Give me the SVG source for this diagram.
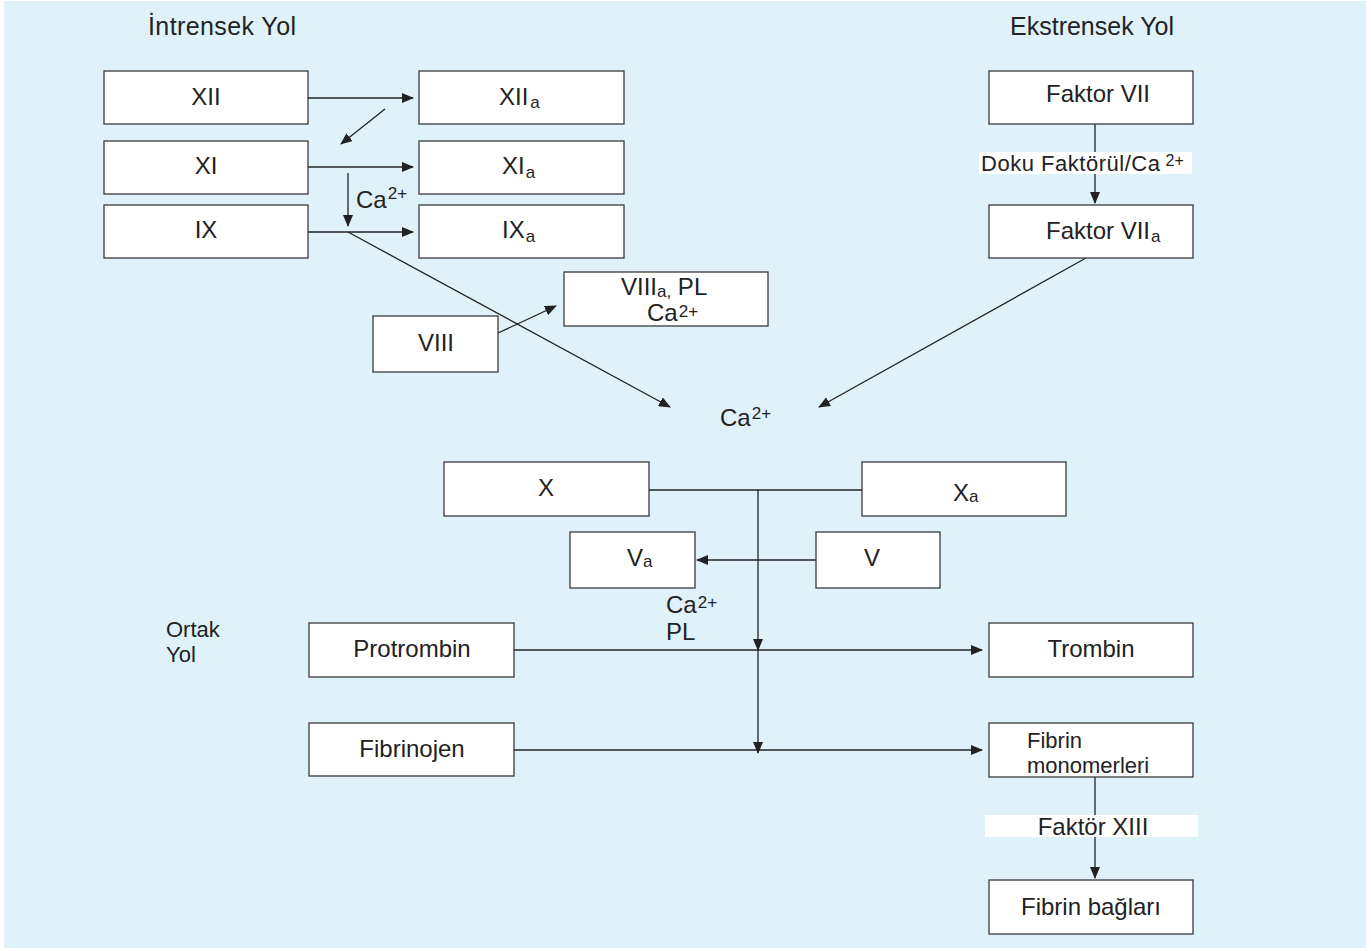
<svg xmlns="http://www.w3.org/2000/svg" width="1371" height="951" viewBox="0 0 1371 951">
<defs>
<style>
.box{fill:#fff;stroke:#3a3a3a;stroke-width:1.3}
.t{font-family:"Liberation Sans",Arial,sans-serif;font-size:24px;fill:#222}
.t2{font-size:22px}
.c{text-anchor:middle}
.sub{font-size:17px}
.sup{font-size:17px}
.ln{stroke:#222;stroke-width:1.3;fill:none}
.ar{marker-end:url(#ah)}
.lbl{fill:#fff}
</style>
<marker id="ah" viewBox="0 0 12 10" refX="11" refY="5" markerWidth="12" markerHeight="10" markerUnits="userSpaceOnUse" orient="auto">
<path d="M0,0 L12,5 L0,10 z" fill="#222"/>
</marker>
</defs>
<rect x="0" y="0" width="1371" height="951" fill="#fff"/>
<rect x="4" y="1" width="1362" height="947" fill="#dff2fa"/>

<text class="t" x="148" y="35" style="font-size:25px" textLength="148">İntrensek Yol</text>
<text class="t" x="1010" y="35" style="font-size:25px" textLength="164">Ekstrensek Yol</text>

<g id="connectors">
<line class="ln ar" x1="308" y1="98" x2="413" y2="98"/>
<line class="ln ar" x1="385" y1="109" x2="341" y2="144"/>
<line class="ln ar" x1="308" y1="167" x2="413" y2="167"/>
<line class="ln ar" x1="348" y1="173" x2="348" y2="226"/>
<line class="ln ar" x1="308" y1="232" x2="413" y2="232"/>
<line class="ln ar" x1="348" y1="232" x2="670" y2="407"/>
<line class="ln ar" x1="498" y1="333" x2="556" y2="306"/>
<line class="ln ar" x1="1086" y1="258" x2="819" y2="407"/>
<line class="ln" x1="1095" y1="124" x2="1095" y2="152"/>
<line class="ln ar" x1="1095" y1="174" x2="1095" y2="203"/>
<line class="ln" x1="649" y1="490" x2="862" y2="490"/>
<line class="ln ar" x1="758" y1="490" x2="758" y2="650"/>
<line class="ln ar" x1="758" y1="650" x2="758" y2="753"/>
<line class="ln ar" x1="816" y1="560" x2="697" y2="560"/>
<line class="ln ar" x1="514" y1="650" x2="982" y2="650"/>
<line class="ln ar" x1="514" y1="750" x2="982" y2="750"/>
<line class="ln ar" x1="1095" y1="777" x2="1095" y2="878"/>
</g>

<g id="lbl-doku">
<rect class="lbl" x="979" y="152" width="213" height="22"/>
<text class="t" x="981" y="171" style="font-size:22px"><tspan textLength="179">Doku Faktörül/Ca</tspan><tspan class="sup" dx="5" dy="-5" style="font-size:16px">2+</tspan></text>
</g>
<g id="lbl-f13">
<rect class="lbl" x="985" y="815" width="213" height="22"/>
<text class="t c" x="1093" y="835">Faktör XIII</text>
</g>

<g id="n-xii"><rect class="box" x="104" y="71" width="204" height="53"/><text class="t c" x="206" y="105">XII</text></g>
<g id="n-xiia"><rect class="box" x="419" y="71" width="205" height="53"/><text class="t" x="499" y="105">XII<tspan class="sub" dx="2" dy="3">a</tspan></text></g>
<g id="n-xi"><rect class="box" x="104" y="141" width="204" height="53"/><text class="t c" x="206" y="174">XI</text></g>
<g id="n-xia"><rect class="box" x="419" y="141" width="205" height="53"/><text class="t" x="502" y="174">XI<tspan class="sub" dx="1" dy="4">a</tspan></text></g>
<g id="n-ix"><rect class="box" x="104" y="205" width="204" height="53"/><text class="t c" x="206" y="238">IX</text></g>
<g id="n-ixa"><rect class="box" x="419" y="205" width="205" height="53"/><text class="t" x="502" y="238">IX<tspan class="sub" dx="1" dy="4">a</tspan></text></g>
<g id="lbl-ca1"><text class="t" x="356" y="208">Ca<tspan class="sup" dx="1" dy="-9">2+</tspan></text></g>
<g id="n-viiia"><rect class="box" x="564" y="272" width="204" height="54"/><text class="t" x="621" y="295">VIII<tspan class="sub" dy="2">a,</tspan><tspan dy="-2"> PL</tspan></text><text class="t" x="647" y="321">Ca<tspan class="sup" dx="1" dy="-4">2+</tspan></text></g>
<g id="n-viii"><rect class="box" x="373" y="316" width="125" height="56"/><text class="t c" x="436" y="351">VIII</text></g>
<g id="n-f7"><rect class="box" x="989" y="71" width="204" height="53"/><text class="t" x="1046" y="102">Faktor VII</text></g>
<g id="n-f7a"><rect class="box" x="989" y="205" width="204" height="53"/><text class="t" x="1046" y="239">Faktor VII<tspan class="sub" dx="1" dy="3">a</tspan></text></g>
<g id="lbl-ca2"><text class="t" x="720" y="426">Ca<tspan class="sup" dx="1" dy="-7">2+</tspan></text></g>
<g id="n-x"><rect class="box" x="444" y="462" width="205" height="54"/><text class="t c" x="546" y="496">X</text></g>
<g id="n-xa"><rect class="box" x="862" y="462" width="204" height="54"/><text class="t" x="953" y="501">X<tspan class="sub" dx="0" dy="1">a</tspan></text></g>
<g id="n-va"><rect class="box" x="570" y="532" width="125" height="56"/><text class="t" x="627" y="566">V<tspan class="sub" dy="1">a</tspan></text></g>
<g id="n-v"><rect class="box" x="816" y="532" width="124" height="56"/><text class="t c" x="872" y="566">V</text></g>
<g id="lbl-capl"><text class="t" x="666" y="613">Ca<tspan class="sup" dx="1" dy="-5">2+</tspan></text><text class="t" x="666" y="640">PL</text></g>
<g id="lbl-ortak"><text class="t t2" x="166" y="637">Ortak</text><text class="t t2" x="166" y="662">Yol</text></g>
<g id="n-protrombin"><rect class="box" x="309" y="623" width="205" height="54"/><text class="t c" x="412" y="657">Protrombin</text></g>
<g id="n-trombin"><rect class="box" x="989" y="623" width="204" height="54"/><text class="t c" x="1091" y="657">Trombin</text></g>
<g id="n-fibrinojen"><rect class="box" x="309" y="723" width="205" height="53"/><text class="t c" x="412" y="757">Fibrinojen</text></g>
<g id="n-fibrinmono"><rect class="box" x="989" y="723" width="204" height="54"/><text class="t t2" x="1027" y="748">Fibrin</text><text class="t t2" x="1027" y="773">monomerleri</text></g>
<g id="n-fibrinbag"><rect class="box" x="989" y="880" width="204" height="54"/><text class="t c" x="1091" y="915">Fibrin bağları</text></g>
</svg>
